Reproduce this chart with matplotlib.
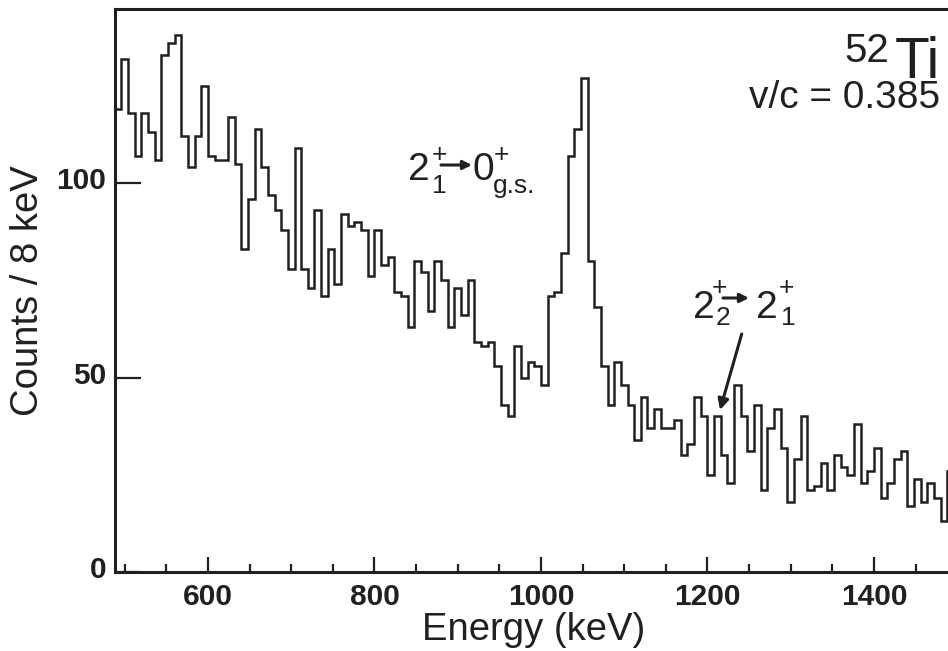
import numpy as np
import matplotlib
matplotlib.use("Agg")
import matplotlib.pyplot as plt
import matplotlib.transforms as mtransforms

plt.rcParams['font.family'] = ['Liberation Sans', 'DejaVu Sans']

# ---- data (8 keV bins, first bin starts at 488 keV) ----
bin_start = 488
bin_width = 8
counts = [119, 132, 118, 107, 118, 113, 106, 133, 136, 138,
          112, 104, 112, 125, 107, 106, 106, 117, 105, 83,
          96, 114, 104, 97, 93, 88, 78, 109, 78, 73,
          93, 71, 83, 74, 92, 89, 90, 88, 76, 88,
          79, 81, 72, 71, 63, 80, 77, 67, 80, 75,
          63, 73, 66, 75, 59, 58, 59, 53, 43, 40,
          58, 50, 54, 53, 48, 71, 72, 82, 107, 114,
          127, 80, 68, 53, 43, 54, 48, 43, 34, 45,
          37, 42, 37, 37, 39, 30, 33, 45, 40, 25,
          40, 30, 23, 48, 40, 31, 43, 21, 37, 42,
          32, 18, 29, 40, 21, 22, 28, 21, 30, 27,
          25, 38, 23, 26, 32, 19, 23, 29, 31, 17,
          24, 18, 23, 19, 13, 26]
x_major = [600, 800, 1000, 1200, 1400]
y_major = [0, 50, 100]

edges = bin_start + bin_width * np.arange(len(counts) + 1)

W, H = 948, 651
fig = plt.figure(figsize=(W / 100, H / 100), dpi=100)
ink = '#231f20'

x0, x1 = 488, 1500
px_per_kev = 0.8325
ax_left = 114.7
ax_bottom = 572
ax_top = 9
ax = fig.add_axes([ax_left / W, (H - ax_bottom) / H,
                   (x1 - x0) * px_per_kev / W, (ax_bottom - ax_top) / H])

ax.stairs(counts, edges, baseline=None, color=ink, lw=1.8)
ax.set_xlim(x0, x1)
ax.set_ylim(0, (ax_bottom - ax_top) / 3.89)

for s in ax.spines.values():
    s.set_linewidth(2.2)
    s.set_color(ink)

ax.set_xticks(x_major)
ax.set_xticks(np.arange(500, 1500, 50), minor=True)
ax.set_yticks(y_major)
ax.tick_params(axis='x', which='major', direction='in', length=11, width=1.6,
               color=ink, labelsize=21.5, pad=8)
ax.tick_params(axis='x', which='minor', direction='in', length=5.8, width=1.6, color=ink)
ax.tick_params(axis='y', which='major', direction='in', length=19, width=1.6,
               color=ink, labelsize=21.5, pad=6)
for lab in ax.get_xticklabels() + ax.get_yticklabels():
    lab.set_fontweight('bold')
    lab.set_color(ink)
off = mtransforms.ScaledTranslation(0, 5 / 100, fig.dpi_scale_trans)
for lab in ax.get_yticklabels():
    lab.set_transform(lab.get_transform() + off)


def P(x, y):
    return x / W, 1 - y / H


def T(x, y, s, size, ha='left', **kw):
    fig.text(*P(x, y), s, fontsize=size, ha=ha, va='baseline', color=ink, **kw)


def arrow(xa, ya, xb, yb, lw=2.0, ms=14):
    fig.add_artist(matplotlib.patches.FancyArrowPatch(
        (xa, H - ya), (xb, H - yb), transform=None,
        arrowstyle='-|>', mutation_scale=ms, lw=lw, color=ink,
        shrinkA=0, shrinkB=0))


# axis labels
T(534, 640, 'Energy (keV)', 27.5, ha='center')
fig.text(*P(28, 291), 'Counts / 8 keV', fontsize=27.5, rotation=90,
         ha='center', va='center', color=ink)

# 52Ti / v/c
T(940, 78, 'Ti', 41, ha='right')
T(889, 62, '52', 29, ha='right')
T(940, 108, 'v/c = 0.385', 28, ha='right')

# 2+1 -> 0+ g.s.
T(408, 180, '2', 28)
T(432, 162, '+', 19)
T(432, 193, '1', 19)
arrow(441, 165, 472, 165, lw=2.2, ms=13)
T(472, 180, '0', 28)
T(494, 162, '+', 19)
T(493, 193, 'g.s.', 19)

# 2+2 -> 2+1
T(693, 318, '2', 28)
T(712, 295, '+', 19)
T(716, 325, '2', 19)
arrow(723, 298, 749, 298, lw=2.2, ms=13)
T(756, 318, '2', 28)
T(779, 295, '+', 19)
T(781, 325, '1', 19)
arrow(741.7, 334, 720, 410, lw=2.2, ms=16)

fig.savefig('out.png', dpi=100)
